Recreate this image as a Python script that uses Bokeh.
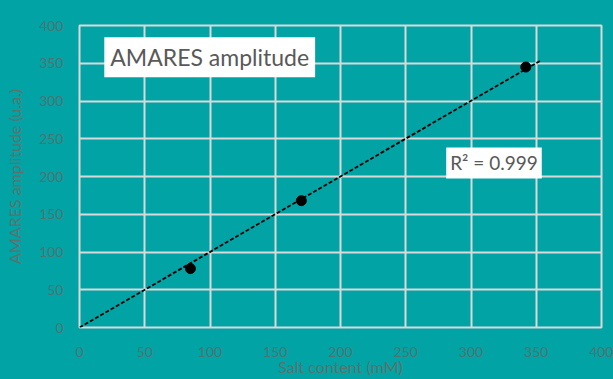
from bokeh.plotting import figure
from bokeh.models import Range1d, SingleIntervalTicker, Label
from bokeh.embed import file_html
from bokeh.resources import INLINE
import numpy as np

salt_mM = [85, 170, 342]
amplitude = [78, 168, 345]
trend_x = [0, 354]
r2_text = "R\u00b2 = 0.999"
title_text = "AMARES amplitude"
x_label = "Salt content (mM)"
y_label = "AMARES amplitude (u.a.)"

bg = "#02A3A5"
grid = "#D9D9D9"
txt = "#4E7371"

# least-squares slope through origin from the data
sx = np.array(salt_mM, float); sy = np.array(amplitude, float)
slope = float((sx * sy).sum() / (sx * sx).sum())
trend_y = [slope * v for v in trend_x]

p = figure(width=613, height=379, output_backend="svg", toolbar_location=None,
           x_range=Range1d(0, 400), y_range=Range1d(0, 400),
           min_border_left=79, min_border_right=12, min_border_top=25, min_border_bottom=52)
p.background_fill_color = bg
p.border_fill_color = bg
p.outline_line_color = grid
p.outline_line_width = 2

for ax in (p.xaxis[0], p.yaxis[0]):
    ax.ticker = SingleIntervalTicker(interval=50)
    ax.axis_line_color = None
    ax.major_tick_line_color = None
    ax.minor_tick_line_color = None
    ax.major_label_text_color = txt
    ax.major_label_text_font = "Lato"
    ax.major_label_text_font_size = "14px"
    ax.axis_label_text_color = "#5C726C"
    ax.axis_label_text_font = "Lato"
    ax.axis_label_text_font_size = "16px"
    ax.axis_label_text_font_style = "normal"

p.xaxis.axis_label = x_label
p.yaxis.axis_label = y_label
p.xaxis.major_label_standoff = 13
p.yaxis.major_label_standoff = 10
p.xaxis.axis_label_standoff = -3
p.yaxis.axis_label_standoff = 12

p.xgrid.ticker = SingleIntervalTicker(interval=50)
p.ygrid.ticker = SingleIntervalTicker(interval=50)
p.grid.grid_line_color = grid
p.grid.grid_line_width = 2

p.line(trend_x, trend_y, line_color="black", line_width=1.8, line_dash="4 2")
p.scatter(salt_mM, amplitude, size=10, color="black")

p.add_layout(Label(x=19, y=358, text=title_text, text_font="Lato", text_font_size="23px",
                   text_color="#595959", text_baseline="middle",
                   background_fill_color="white", border_line_color=None,
                   padding=6))
p.add_layout(Label(x=281, y=218, text=r2_text, text_font="Lato", text_font_size="19px",
                   text_color="#595959", text_baseline="middle",
                   background_fill_color="white", border_line_color=None,
                   padding=4))

html = file_html(p, INLINE)
html = html.replace("<body>", '<body style="background:%s">' % bg)
open("out.html", "w").write(html)
